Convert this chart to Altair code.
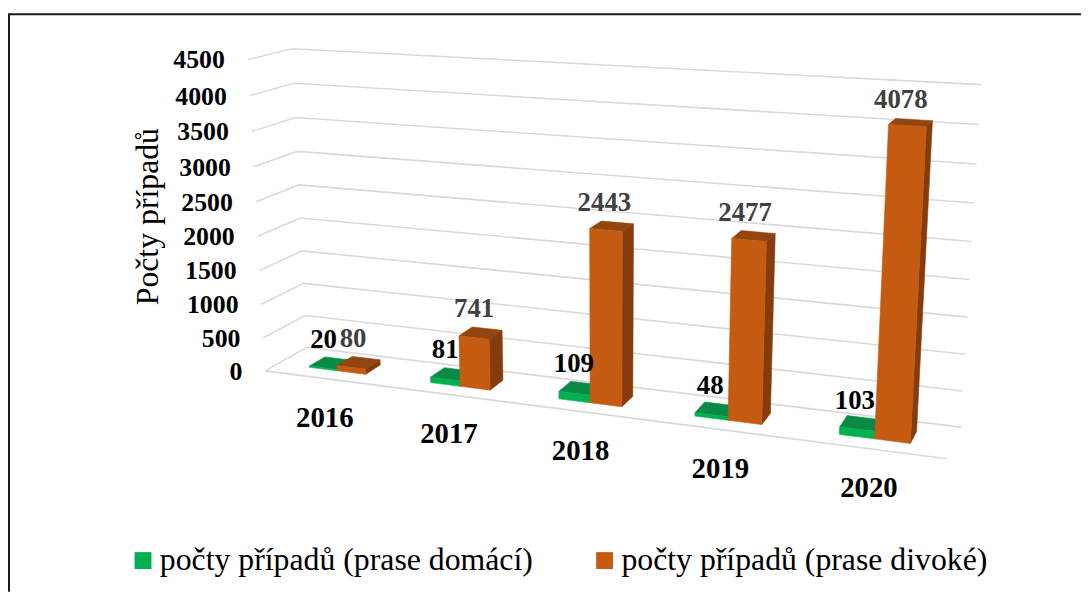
import numpy as np
import pandas as pd
import altair as alt

years = ["2016", "2017", "2018", "2019", "2020"]
domestic = [20, 81, 109, 48, 103]
wild = [80, 741, 2443, 2477, 4078]
ticks = [0, 500, 1000, 1500, 2000, 2500, 3000, 3500, 4000, 4500]
series_names = ["počty případů (prase domácí)", "počty případů (prase divoké)"]
front_colors = ["#00B050", "#C55A11"]
top_colors = ["#0A8A45", "#93450F"]
side_colors = ["#007A38", "#843C0C"]
VMAX = 4500
W, H = 1081, 586
SERIF = "Liberation Serif"

# camera of the 3-D box: (category, depth 0=front 1=back, value share) -> page pixel
cam_in = [(0,1,0),(5,1,0),(0,0,0),(5,0,0),(0,1,1),(5,1,1),(0,0,1)]
cam_out = [(306,348),(961,428),(266,371),(947,460),(293,46.5),(981,83),(247,58)]
A, b = [], []
for (X, D, V), (u, v) in zip(cam_in, cam_out):
    A.append([X, D, V, 1, 0, 0, 0, 0, -u*X, -u*D, -u*V]); b.append(u)
    A.append([0, 0, 0, 0, X, D, V, 1, -v*X, -v*D, -v*V]); b.append(v)
p = np.linalg.lstsq(np.array(A, float), np.array(b, float), rcond=None)[0]

def proj(X, D, val):
    V = val / VMAX
    w = p[8]*X + p[9]*D + p[10]*V + 1
    return float((p[0]*X + p[1]*D + p[2]*V + p[3]) / w), float((p[4]*X + p[5]*D + p[6]*V + p[7]) / w)

BW, D_FRONT, D_BACK = 0.235, 0.31, 0.69

# gridlines
grid = []
for t in ticks:
    for k, (X, D) in enumerate([(0, 0), (0, 1), (5, 1)]):
        x, y = proj(X, D, t)
        grid.append(dict(g=f"g{t}", k=k, x=x, y=y))
for k, X in enumerate([0, 5]):
    x, y = proj(X, 0, 0)
    grid.append(dict(g="front", k=k, x=x, y=y))

# bar faces
faces = []
def add_face(pid, color, pts):
    for k, (X, D, val) in enumerate(pts + pts[:1]):
        x, y = proj(X, D, val)
        faces.append(dict(pid=pid, k=k, x=x, y=y, color=color))

labels = []
for i, yr in enumerate(years):
    c = i + 0.5
    for s, vals in enumerate([domestic, wild]):
        x0 = c - BW + s * BW
        x1 = x0 + BW
        v = vals[i]
        pid = f"{yr}-{s}"
        add_face(pid + "a", side_colors[s], [(x1, D_FRONT, 0), (x1, D_BACK, 0), (x1, D_BACK, v), (x1, D_FRONT, v)])
        add_face(pid + "b", top_colors[s], [(x0, D_FRONT, v), (x1, D_FRONT, v), (x1, D_BACK, v), (x0, D_BACK, v)])
        add_face(pid + "c", front_colors[s], [(x0, D_FRONT, 0), (x1, D_FRONT, 0), (x1, D_FRONT, v), (x0, D_FRONT, v)])
        lx, ly = proj((x0 + x1) / 2, D_BACK, v)
        if s == 0:
            labels.append(dict(x=lx - 15 + 1.4 * i, y=ly - 19 + 1.0 * i - 2 * (i > 0), t=str(v), c="#000000"))
        else:
            labels.append(dict(x=lx - 13, y=ly - 19.5, t=str(v), c="#404040"))

tick_rows = []
for t in ticks:
    x, y = proj(0, 0, t)
    tick_rows.append(dict(x=x - 23, y=y + 1, t=str(t)))
cat_rows = []
for i, yr in enumerate(years):
    x, y = proj(i + 0.5, 0, 0)
    cat_rows.append(dict(x=x, y=y + 39.5, t=yr))

xs = alt.X("x:Q", axis=None, scale=alt.Scale(domain=[8, 8 + 1073], nice=False, zero=False))
ys = alt.Y("y:Q", axis=None, scale=alt.Scale(domain=[8 + H, 8], nice=False, zero=False))

grid_l = alt.Chart(pd.DataFrame(grid)).mark_line(strokeWidth=1.6, color="#D9D9D9").encode(
    x=xs, y=ys, detail="g:N", order="k:Q")

legend_l = alt.Chart(pd.DataFrame(dict(x=[475, 475], y=[370, 370], s=series_names))).mark_square(size=1, opacity=1).encode(
    x=xs, y=ys,
    color=alt.Color("s:N", sort=None,
        scale=alt.Scale(domain=series_names, range=front_colors),
        legend=alt.Legend(orient="none", legendX=120, legendY=538.5, direction="horizontal", columns=2,
                          title=None, symbolType="square", symbolSize=289, symbolStrokeWidth=0,
                          labelFont=SERIF, labelFontSize=32, labelColor="#000000", labelLimit=500,
                          columnPadding=56, symbolOffset=0, labelOffset=1)))

faces_l = alt.Chart(pd.DataFrame(faces)).mark_line(strokeWidth=0.6).encode(
    x=xs, y=ys, detail="pid:N", order="k:Q",
    fill=alt.Fill("color:N", scale=None), stroke=alt.Stroke("color:N", scale=None))

val_l = alt.Chart(pd.DataFrame(labels)).mark_text(font=SERIF, fontWeight="bold", fontSize=27, baseline="middle").encode(
    x=xs, y=ys, text="t:N", color=alt.Color("c:N", scale=None))
tick_l = alt.Chart(pd.DataFrame(tick_rows)).mark_text(font=SERIF, fontWeight="bold", fontSize=26, baseline="middle", align="right", color="#000000").encode(
    x=xs, y=ys, text="t:N")
cat_l = alt.Chart(pd.DataFrame(cat_rows)).mark_text(font=SERIF, fontWeight="bold", fontSize=29, baseline="middle", color="#000000").encode(
    x=xs, y=ys, text="t:N")
title_l = alt.Chart(pd.DataFrame(dict(x=[148], y=[216], t=["Počty případů"]))).mark_text(
    font=SERIF, fontSize=32, angle=270, baseline="middle", color="#000000").encode(x=xs, y=ys, text="t:N")

frame = alt.Chart(pd.DataFrame(dict(x=[9, 9, 1089], y=[594, 12, 12], k=[0, 1, 2]))).mark_line(
    color="#1a1a1a", strokeWidth=2).encode(x=xs, y=ys, order="k:Q")

chart = alt.layer(frame, grid_l, legend_l, faces_l, tick_l, cat_l, title_l, val_l).properties(
    width=W, height=H, padding=0, autosize=alt.AutoSizeParams(type="none"), background="white"
).configure_view(stroke=None)

chart.save("out.html", embed_options={"renderer": "svg", "actions": False})
